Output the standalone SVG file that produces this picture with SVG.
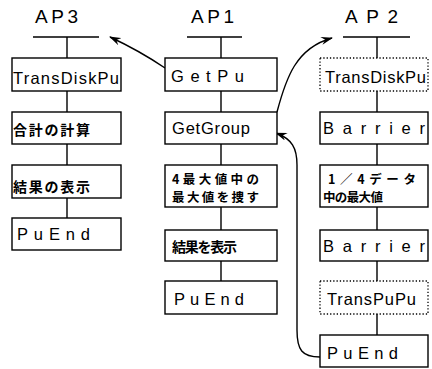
<svg xmlns="http://www.w3.org/2000/svg" width="432" height="369" viewBox="0 0 432 369">
<style>
.box{fill:#fff;stroke:#000;stroke-width:1.4}
.dot{fill:#fff;stroke:#000;stroke-width:1.3;stroke-dasharray:1.3 2}
.ln{stroke:#000;stroke-width:1.4;fill:none}
.t{font-family:"Liberation Sans","DejaVu Sans",sans-serif;font-size:16.5px;fill:#000}
.j{font-family:"Noto Sans CJK JP",sans-serif;font-size:14px;font-weight:bold;fill:#000}
.j2{font-family:"Noto Sans CJK JP",sans-serif;font-size:12.5px;font-weight:bold;fill:#000}
.h{font-family:"Liberation Sans","DejaVu Sans",sans-serif;font-size:19px;fill:#000}
.arr{stroke:#000;stroke-width:1.4;fill:none;marker-end:url(#ah)}
</style>
<defs>
<marker id="ah" viewBox="0 0 12 8" refX="11" refY="4" markerWidth="12" markerHeight="8" markerUnits="userSpaceOnUse" orient="auto">
<path d="M0,0 L12,4 L0,8 L4,4 Z" fill="#000"/>
</marker>
</defs>
<rect width="432" height="369" fill="#fff"/>
<g id="connectors">
<path class="ln" d="M33,37H99M67,37V58M67,91V112M67,144V165M67,198V218"/>
<path class="ln" d="M187,37H242M221,37V58M221,91V112M221,144V165M221,207V230M221,261V281"/>
<path class="ln" d="M343,37H410M377,37V58M377,91V112M377,144V165M377,207V230M377,261V281M377,314V335"/>
<path class="arr" d="M165,68 Q140,51 110,37"/>
<path class="arr" d="M277,112 C286,78 296,48 332,38"/>
<path class="arr" d="M320,357 C302,357 297,350 297,330 L297,165 C297,148 292,139 276,133"/>
</g>
<g id="title-ap3"><text class="h" x="35" y="23" textLength="43" lengthAdjust="spacing">AP3</text></g>
<g id="title-ap1"><text class="h" x="191" y="23" textLength="43" lengthAdjust="spacing">AP1</text></g>
<g id="title-ap2"><text class="h" x="345" y="23" textLength="53" lengthAdjust="spacing">AP2</text></g>

<g id="ap3-transdiskpu"><rect class="box" x="12" y="58" width="109" height="33"/><text class="t" x="13" y="84" textLength="106" lengthAdjust="spacing">TransDiskPu</text></g>
<g id="ap3-goukei"><rect class="box" x="12" y="112" width="109" height="32"/><text class="j" x="13" y="135" textLength="77" lengthAdjust="spacing">合計の計算</text></g>
<g id="ap3-kekka"><rect class="box" x="12" y="165" width="109" height="33"/><text class="j" x="13" y="192" textLength="77" lengthAdjust="spacing">結果の表示</text></g>
<g id="ap3-puend"><rect class="box" x="12" y="218" width="109" height="32"/><text class="t" x="17" y="240" textLength="73" lengthAdjust="spacing">PuEnd</text></g>

<g id="ap1-getpu"><rect class="box" x="165" y="58" width="112" height="33"/><text class="t" x="171" y="82" textLength="73" lengthAdjust="spacing">GetPu</text></g>
<g id="ap1-getgroup"><rect class="box" x="165" y="112" width="112" height="32"/><text class="t" x="172" y="134" textLength="78" lengthAdjust="spacing">GetGroup</text></g>
<g id="ap1-max"><rect class="box" x="165" y="165" width="112" height="42"/><text class="j2" x="172" y="184" textLength="87" lengthAdjust="spacing">4最大値中の</text><text class="j2" x="172" y="202" textLength="87" lengthAdjust="spacing">最大値を捜す</text></g>
<g id="ap1-kekka"><rect class="box" x="165" y="230" width="112" height="31"/><text class="j" x="172" y="252" textLength="65" lengthAdjust="spacing">結果を表示</text></g>
<g id="ap1-puend"><rect class="box" x="165" y="281" width="112" height="33"/><text class="t" x="174" y="305" textLength="70" lengthAdjust="spacing">PuEnd</text></g>

<g id="ap2-transdiskpu"><rect class="dot" x="320" y="58" width="108" height="33"/><text class="t" x="325" y="83" textLength="101" lengthAdjust="spacing">TransDiskPu</text></g>
<g id="ap2-barrier1"><rect class="box" x="320" y="112" width="108" height="32"/><text class="t" x="323" y="134" textLength="102" lengthAdjust="spacing">Barrier</text></g>
<g id="ap2-quarter"><rect class="box" x="320" y="165" width="108" height="42"/><text class="j2" x="328" y="184" textLength="88" lengthAdjust="spacing">1／4データ</text><text class="j2" x="323" y="202" textLength="60" lengthAdjust="spacing">中の最大値</text></g>
<g id="ap2-barrier2"><rect class="box" x="320" y="230" width="108" height="31"/><text class="t" x="323" y="252" textLength="102" lengthAdjust="spacing">Barrier</text></g>
<g id="ap2-transpupu"><rect class="dot" x="320" y="281" width="108" height="33"/><text class="t" x="327" y="305" textLength="89" lengthAdjust="spacing">TransPuPu</text></g>
<g id="ap2-puend"><rect class="box" x="320" y="335" width="108" height="32"/><text class="t" x="327" y="359" textLength="71" lengthAdjust="spacing">PuEnd</text></g>
</svg>
